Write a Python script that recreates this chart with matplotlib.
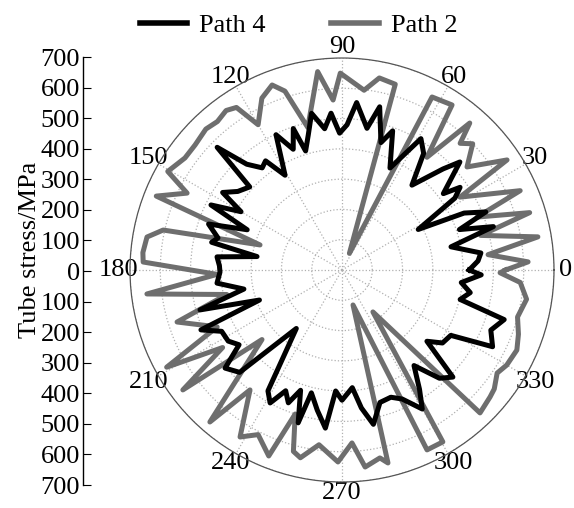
import numpy as np
import matplotlib
matplotlib.use("Agg")
import matplotlib.pyplot as plt
from matplotlib.lines import Line2D

plt.rcParams['font.family'] = ['Liberation Serif', 'DejaVu Serif']

# Path 2 (grey) : angle in degrees, tube stress in MPa
path2_theta = [0, 2.5, 6, 9.6, 14, 17, 21.4, 24, 31.7, 33.7, 39.5, 44, 47, 49, 53, 56.3,
               62.5, 66, 74, 79, 83, 90.5, 93, 97, 103.5, 107.7, 110.7, 115, 120, 123,
               126, 130, 134, 139.6, 144.5, 150.5, 153.6, 158.3, 163, 167.4, 170.4,
               175, 177.7, 182, 187, 192, 197.5, 204.5, 209, 213, 217, 221, 229,
               232.5, 238.6, 243, 248.5, 252, 255, 257.5, 262.5, 268.8, 273.3, 276.7,
               281.4, 283.4, 287.5, 295.3, 300.4, 306.4, 314, 319.4, 322, 326.4, 330,
               335.4, 340, 345, 351, 356, 359, 360]
path2_stress = [540, 615, 485, 656, 472, 648, 479, 644, 458, 655, 535, 600, 572, 643, 466, 655,
                644, 60, 638, 646, 598, 650, 562, 660, 484, 620, 653, 626, 554, 640,
                651, 640, 647, 637, 637, 661, 571, 660, 283, 605, 653,
                660, 657, 413, 649, 389, 571, 453, 662, 470, 658, 350, 665,
                499, 646, 610, 660, 500, 620, 635, 582, 634, 572, 655,
                633, 655, 121, 657, 658, 172, 656, 644, 638, 615, 628,
                635, 620, 600, 617, 590, 522, 540]

# Path 4 (black)
path4_theta = [0, 3.8, 7, 12, 16, 19, 22, 25, 28, 32.5, 35, 37, 42.5, 45, 50.5, 55, 59,
               64.8, 70, 73, 77, 80, 85, 88, 91, 94, 97, 101, 104, 107, 109, 112, 116,
               121, 125, 128, 132, 135.5, 138, 143, 147, 150, 153.6, 157, 161, 165.5,
               168, 171, 174, 178, 181, 186, 191, 195.7, 200, 203, 207, 212, 216, 220,
               225, 232, 238.5, 241.6, 245, 248, 251, 254, 256, 260, 264, 267, 270,
               275, 278, 281.5, 286, 291, 295, 300, 303, 307, 312, 316, 320, 324, 329,
               333, 338, 343, 346, 350, 354, 358, 360]
path4_stress = [420, 450, 462, 368, 520, 410, 512, 445, 285, 442, 476, 419, 528, 472, 363, 470, 506,
                372, 489, 440, 553, 475, 555, 480, 452, 519, 470, 527, 460, 411, 494, 430, 497,
                365, 440, 428, 470, 578, 410, 431, 470, 385, 483, 340, 466, 423,
                440, 284, 415, 405, 403, 415, 330, 487, 290, 506, 446, 443, 420, 504,
                478, 245, 468, 499, 440, 473, 420, 525, 418, 470, 525, 400, 430,
                390, 460, 520, 455, 450, 470, 530, 470, 395, 481, 509, 366, 410, 419,
                558, 530, 560, 402, 430, 396, 460, 420]

angle_ticks = list(range(0, 360, 30))
stress_ticks = list(range(-700, 701, 100))

fig = plt.figure(figsize=(5.74, 5.08), dpi=100)

# polar part
ax = fig.add_axes([130 / 574, 26 / 508, 424 / 574, 424 / 508], polar=True)
ax.plot(np.deg2rad(path2_theta), path2_stress, color='#6e6e6e', linewidth=3.6)
ax.plot(np.deg2rad(path4_theta), path4_stress, color='black', linewidth=3.6)
ax.set_ylim(0, 700)
ax.set_yticks(range(100, 701, 100))
ax.set_yticklabels([])
ax.set_xticks(np.deg2rad(angle_ticks))
ax.set_xticklabels([str(a) for a in angle_ticks], fontsize=19)
ax.set_xticks(np.deg2rad(np.arange(15, 360, 30)), minor=True)
ax.tick_params(axis='x', which='both', direction='in', length=5, color='#555555', pad=1)
ax.grid(True, linestyle=':', color='#b0b0b0', linewidth=0.9)
ax.spines['polar'].set_color('#555555')
ax.spines['polar'].set_linewidth(0.9)

# left stress scale
lax = fig.add_axes([83 / 574, 23 / 508, 0.001, 428 / 508])
lax.patch.set_visible(False)
for s in ['top', 'right', 'bottom']:
    lax.spines[s].set_visible(False)
lax.spines['left'].set_linewidth(1.0)
lax.set_xticks([])
lax.set_ylim(-700, 700)
lax.set_yticks(stress_ticks)
lax.set_yticklabels([str(abs(v)) for v in stress_ticks], fontsize=19)
lax.tick_params(axis='y', direction='in', length=6, pad=2)
fig.text(30 / 574, 1 - 250 / 508, 'Tube stress/MPa', rotation=90, fontsize=19,
         ha='center', va='center')

handles = [Line2D([], [], color='black', linewidth=4),
           Line2D([], [], color='#6e6e6e', linewidth=4)]
fig.legend(handles, ['Path 4', 'Path 2'], loc='upper center', bbox_to_anchor=(0.52, 1.02),
           ncol=2, frameon=False, fontsize=19, handlelength=1.8, columnspacing=2.5,
           handletextpad=0.45)

fig.savefig('out.png', dpi=100)
